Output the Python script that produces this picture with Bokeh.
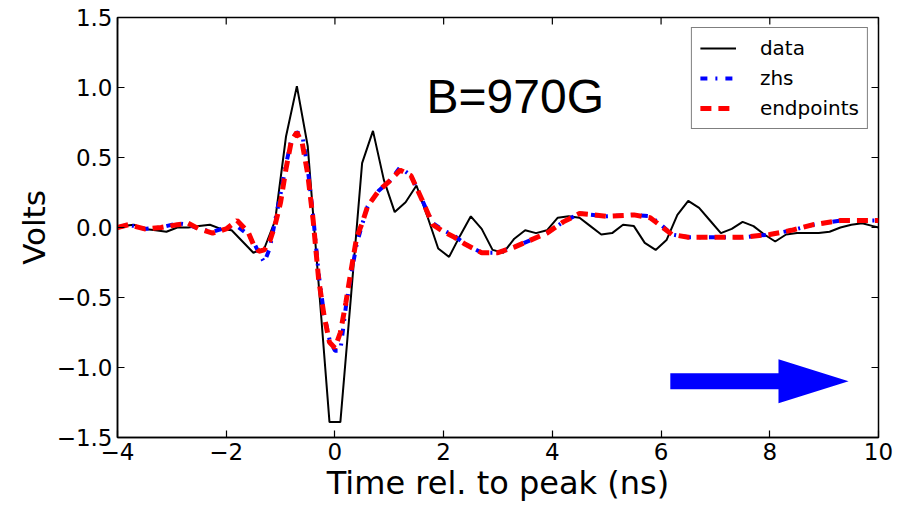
import math
from bokeh.plotting import figure
from bokeh.models import FixedTicker, Range1d, Label
from bokeh.embed import file_html
from bokeh.resources import INLINE

# ---------------- data ----------------
data_t = [-4.1, -3.9, -3.7, -3.5, -3.3, -3.1, -2.9, -2.7, -2.5, -2.3, -2.1, -1.9,
          -1.7, -1.5, -1.3, -1.1, -0.9, -0.7, -0.5, -0.3, -0.1, 0.1, 0.3, 0.5,
          0.7, 0.9, 1.1, 1.3, 1.5, 1.7, 1.9, 2.1, 2.3, 2.5, 2.7, 2.9,
          3.1, 3.3, 3.5, 3.7, 3.9, 4.1, 4.3, 4.5, 4.7, 4.9, 5.1, 5.3,
          5.5, 5.7, 5.9, 6.1, 6.3, 6.5, 6.7, 6.9, 7.1, 7.3, 7.5, 7.7,
          7.9, 8.1, 8.3, 8.5, 8.7, 8.9, 9.1, 9.3, 9.5, 9.7, 9.9, 10.1]
data_v = [0.00, 0.01, 0.02, -0.01, -0.02, -0.03, 0.00, 0.00, 0.01, 0.02, -0.01, -0.02,
          -0.10, -0.18, -0.15, 0.05, 0.65, 1.01, 0.58, -0.40, -1.39, -1.39, -0.47, 0.46,
          0.69, 0.34, 0.11, 0.18, 0.30, 0.08, -0.15, -0.21, -0.06, 0.08, -0.01, -0.16,
          -0.18, -0.08, -0.02, -0.04, -0.02, 0.07, 0.08, 0.07, 0.01, -0.05, -0.04, 0.02,
          0.01, -0.11, -0.16, -0.09, 0.09, 0.19, 0.14, 0.05, -0.04, -0.01, 0.04, 0.01,
          -0.05, -0.10, -0.05, -0.04, -0.04, -0.04, -0.03, 0.00, 0.02, 0.03, 0.01, -0.01]

model_t = [-4.0, -3.8, -3.5, -3.2, -2.9, -2.7, -2.5, -2.25, -2.0, -1.8, -1.6, -1.5,
           -1.4, -1.3, -1.2, -1.1, -1.0, -0.9, -0.8, -0.7, -0.6, -0.5, -0.4, -0.3,
           -0.2, -0.1, 0.0, 0.1, 0.2, 0.3, 0.4, 0.5, 0.6, 0.8, 1.0, 1.2,
           1.4, 1.6, 1.8, 2.0, 2.2, 2.4, 2.7, 3.0, 3.3, 3.6, 3.9, 4.2,
           4.5, 5.0, 5.5, 5.8, 6.0, 6.2, 6.5, 7.0, 7.5, 8.0, 8.4, 8.8,
           9.3, 10.0]
zhs_v = [0.00, 0.02, -0.01, 0.00, 0.03, 0.02, -0.01, -0.03, 0.00, 0.01, -0.05, -0.10,
         -0.18, -0.25, -0.15, 0.05, 0.24, 0.45, 0.63, 0.68, 0.66, 0.42, 0.08, -0.33,
         -0.62, -0.80, -0.88, -0.88, -0.57, -0.33, -0.12, 0.02, 0.15, 0.26, 0.33, 0.43,
         0.37, 0.20, 0.03, -0.02, -0.06, -0.12, -0.18, -0.18, -0.14, -0.09, -0.04, 0.04,
         0.10, 0.08, 0.09, 0.08, 0.02, -0.05, -0.07, -0.07, -0.07, -0.05, -0.02, 0.02,
         0.05, 0.05]
endpoints_v = [0.00, 0.02, -0.01, 0.00, 0.02, 0.03, -0.01, -0.04, -0.01, 0.05, -0.03, -0.12,
               -0.17, -0.16, -0.10, 0.02, 0.18, 0.42, 0.62, 0.68, 0.60, 0.38, 0.05, -0.37,
               -0.63, -0.82, -0.86, -0.75, -0.54, -0.30, -0.07, 0.03, 0.15, 0.26, 0.33, 0.41,
               0.37, 0.20, 0.02, -0.03, -0.07, -0.12, -0.18, -0.18, -0.14, -0.09, -0.04, 0.04,
               0.10, 0.08, 0.09, 0.07, 0.01, -0.05, -0.07, -0.07, -0.07, -0.05, -0.02, 0.02,
               0.05, 0.05]

x_ticks = [-4, -2, 0, 2, 4, 6, 8, 10]
y_ticks = [-1.5, -1.0, -0.5, 0.0, 0.5, 1.0, 1.5]
x_tick_labels = ["\u22124", "\u22122", "0", "2", "4", "6", "8", "10"]
y_tick_labels = ["\u22121.5", "\u22121.0", "\u22120.5", "0.0", "0.5", "1.0", "1.5"]

series_names = ["data", "zhs", "endpoints"]
annotation_text = "B=970G"
x_title = "Time rel. to peak (ns)"
y_title = "Volts"

X_MIN, X_MAX, Y_MIN, Y_MAX = -4, 10, -1.5, 1.5

# ---------------- figure ----------------
TICK_FONT = "DejaVu Sans"
p = figure(width=900, height=504, x_range=Range1d(X_MIN, X_MAX), y_range=Range1d(Y_MIN, Y_MAX),
           output_backend="svg", toolbar_location=None,
           min_border_left=117, min_border_right=22, min_border_top=17, min_border_bottom=65)
p.grid.visible = False
p.background_fill_color = "white"
p.border_fill_color = "white"
p.outline_line_color = "black"
p.outline_line_width = 1.5


def style_axis(ax, ticks, labels):
    ax.ticker = FixedTicker(ticks=ticks)
    ax.major_label_overrides = {t: l for t, l in zip(ticks, labels)}
    ax.major_tick_in = 7
    ax.major_tick_out = 0
    ax.major_tick_line_color = "black"
    ax.major_tick_line_width = 1.2
    ax.minor_tick_line_color = None
    ax.axis_line_color = "black"
    ax.axis_line_width = 1.5
    ax.major_label_text_font = TICK_FONT
    ax.major_label_text_color = "black"
    ax.major_label_text_font_size = "23px"
    ax.major_label_standoff = 5


style_axis(p.xaxis[0], x_ticks, x_tick_labels)
style_axis(p.yaxis[0], y_ticks, y_tick_labels)
for ax, title, standoff, size in ((p.xaxis[0], x_title, 1, "32px"), (p.yaxis[0], y_title, 2, "31px")):
    ax.axis_label = title
    ax.axis_label_text_font = TICK_FONT
    ax.axis_label_text_font_size = size
    ax.axis_label_text_font_style = "normal"
    ax.axis_label_text_color = "black"
    ax.axis_label_standoff = standoff

# inward tick marks on the top and right spines (clipped to the frame -> 7px inside)
p.scatter(x_ticks, [Y_MAX] * len(x_ticks), marker="dash", angle=math.pi / 2, size=14,
          line_color="black", line_width=1.2)
p.scatter([X_MAX] * len(y_ticks), y_ticks, marker="dash", size=14,
          line_color="black", line_width=1.2)

# ---------------- lines ----------------
p.line(data_t, data_v, color="black", line_width=2, legend_label=series_names[0])
p.line(model_t, zhs_v, color="#0000ff", line_width=4, line_dash="7 8 2 8",
       legend_label=series_names[1])
p.line(model_t, endpoints_v, color="#ff0000", line_width=5, line_dash="11 7",
       legend_label=series_names[2])

# ---------------- legend ----------------
lg = p.legend[0]
lg.location = "top_right"
lg.margin = 10
lg.padding = 8
lg.spacing = 6
lg.glyph_width = 36
lg.glyph_height = 20
lg.label_standoff = 24
lg.label_text_font = TICK_FONT
lg.label_text_font_size = "20px"
lg.label_text_color = "black"
lg.border_line_color = "black"
lg.border_line_width = 1.2
lg.background_fill_color = "white"
lg.background_fill_alpha = 1.0

# ---------------- annotations ----------------
p.add_layout(Label(x=1.685, y=0.934, text=annotation_text, text_font="Liberation Sans",
                   text_font_size="48px", text_color="black", text_baseline="alphabetic",
                   text_align="left"))

# big blue arrow (decoration, bottom right)
arrow_x0, arrow_xb, arrow_tip, arrow_y = 6.17, 8.16, 9.45, -1.098
shaft_h, head_h = 0.057, 0.157
p.patch([arrow_x0, arrow_xb, arrow_xb, arrow_tip, arrow_xb, arrow_xb, arrow_x0],
        [arrow_y - shaft_h, arrow_y - shaft_h, arrow_y - head_h, arrow_y,
         arrow_y + head_h, arrow_y + shaft_h, arrow_y + shaft_h],
        color="#0000ff", line_width=0)

open("out.html", "w").write(file_html(p, INLINE))
